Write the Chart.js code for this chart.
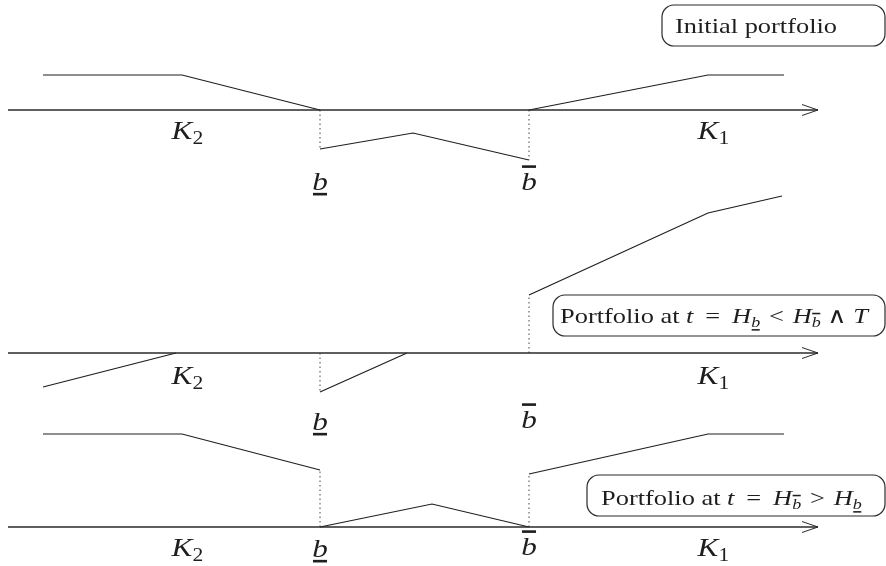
<!DOCTYPE html>
<html>
<head>
<meta charset="utf-8">
<script src="https://cdn.jsdelivr.net/npm/chart.js@4.4.0/dist/chart.umd.min.js"></script>
<style>
  html, body { margin: 0; padding: 0; background: #fff; }
  canvas { display: block; }
</style>
</head>
<body>
<canvas id="payoffChart" width="886" height="566"></canvas>
<script>
// strikes and barriers on the price axis
const strikes = [18.2, 70.8];          // K2, K1
const strikeIdx = ['2', '1'];
const barriers = [32.0, 52.9];         // lower b, upper b
const axisX = [0.8, 81.8];

// initial portfolio
const initLeftX = [4.3, 18.2, 32.0],   initLeftY = [3.5, 3.5, 0];
const initMidX = [32.0, 41.3, 52.9],   initMidY = [-3.9, -2.3, -5.0];
const initRightX = [52.9, 70.8, 78.4], initRightY = [0, 3.5, 3.5];

// portfolio once the lower barrier is hit
const lowLeftX = [4.3, 17.6],          lowLeftY = [-3.4, 0];
const lowMidX = [32.0, 40.7],          lowMidY = [-3.9, 0];
const lowRightX = [52.9, 70.8, 78.2],  lowRightY = [5.8, 14.0, 15.7];

// portfolio once the upper barrier is hit
const upLeftX = [4.3, 18.2, 32.0],     upLeftY = [9.3, 9.3, 5.7];
const upMidX = [32.0, 43.2, 52.9],     upMidY = [0, 2.3, 0];
const upRightX = [52.9, 70.8, 78.4],   upRightY = [5.3, 9.3, 9.3];

const INK = '#1e1e1e';
const SERIF = '"Liberation Serif", "DejaVu Serif", serif';
const STRETCH = 1.2;   // widen Times glyphs towards the TeX look
const SP = '\u2009';   // thin space around "="
const HS = '\u200A';   // hair space around "<" and ">"

const panels = [
  {
    axis: 'y1', min: -45.6, max: 11.0,
    lines: [[initLeftX, initLeftY], [initMidX, initMidY], [initRightX, initRightY]],
    jumps: [initMidY[0], initMidY[2]],
    kBase: -2.9, bBase: [-8.0, -8.0],
    box: { x0: 66.2, x1: 88.5, top: 10.5, bot: 6.4, tx: 67.5, base: 7.75 },
    text: [{ t: 'Initial portfolio' }]
  },
  {
    axis: 'y2', min: -21.3, max: 35.3,
    lines: [[lowLeftX, lowLeftY], [lowMidX, lowMidY], [lowRightX, lowRightY]],
    jumps: [lowMidY[0], lowRightY[0]],
    kBase: -3.1, bBase: [-7.7, -7.5],
    box: { x0: 55.3, x1: 88.5, top: 5.8, bot: 1.7, tx: 56.0, base: 3.0 },
    text: [
      { t: 'Portfolio at ' }, { t: 't', it: true }, { t: SP + ' = ' + SP }, { t: 'H', it: true },
      { t: 'b', it: true, sub: true, deco: 'under' }, { t: HS + ' < ' + HS }, { t: 'H', it: true },
      { t: 'b', it: true, sub: true, deco: 'over' }, { t: ' \u2227 ' }, { t: 'T', it: true }
    ]
  },
  {
    axis: 'y3', min: -3.9, max: 52.7,
    lines: [[upLeftX, upLeftY], [upMidX, upMidY], [upRightX, upRightY]],
    jumps: [upLeftY[2], upRightY[0]],
    kBase: -2.9, bBase: [-3.0, -2.8],
    box: { x0: 58.7, x1: 88.5, top: 5.2, bot: 1.1, tx: 60.1, base: 2.2 },
    text: [
      { t: 'Portfolio at ' }, { t: 't', it: true }, { t: SP + ' = ' + SP }, { t: 'H', it: true },
      { t: 'b', it: true, sub: true, deco: 'over' }, { t: HS + ' > ' + HS }, { t: 'H', it: true },
      { t: 'b', it: true, sub: true, deco: 'under' }
    ]
  }
];

function pts(xs, ys) {
  return xs.map((x, i) => ({ x: x, y: ys[i] }));
}

const datasets = [];
panels.forEach((p) => {
  // price axis with open arrow head
  datasets.push({ data: pts(axisX, [0, 0]), yAxisID: p.axis, borderColor: '#2a2a2a', borderWidth: 1.4 });
  datasets.push({
    data: pts([axisX[1] - 1.6, axisX[1], axisX[1] - 1.6], [0.55, 0, -0.55]),
    yAxisID: p.axis, borderColor: '#2a2a2a', borderWidth: 1
  });
  p.lines.forEach(([xs, ys]) => {
    datasets.push({ data: pts(xs, ys), yAxisID: p.axis, borderColor: INK, borderWidth: 1.2 });
  });
  barriers.forEach((bx, i) => {
    datasets.push({
      data: pts([bx, bx], [0, p.jumps[i]]), yAxisID: p.axis,
      borderColor: '#444', borderWidth: 1, borderDash: [1.5, 3]
    });
  });
});

function runFont(r, size) {
  const s = r.sub ? Math.round(size * 0.7) : size;
  return (r.it ? 'italic ' : '') + s + 'px ' + SERIF;
}

function textWidth(ctx, r, size) {
  ctx.font = runFont(r, size);
  return ctx.measureText(r.t).width * STRETCH;
}

// draws roman / italic / subscript pieces from x along a baseline
function drawRuns(ctx, runs, x, base, size) {
  let cx = x;
  runs.forEach((r) => {
    const w = textWidth(ctx, r, size);
    const y = r.sub ? base + size * 0.2 : base;
    ctx.save();
    ctx.translate(cx, y);
    ctx.scale(STRETCH, 1);
    ctx.fillText(r.t, 0, 0);
    ctx.restore();
    if (r.deco) {
      const s = r.sub ? size * 0.7 : size;
      const ly = r.deco === 'under' ? y + s * 0.16 : y - s * 0.9;
      ctx.fillRect(cx + w * 0.05, ly - s * 0.05, w * 0.9, Math.max(1.5, s * 0.1));
    }
    cx += w;
  });
  return cx - x;
}

const annotate = {
  id: 'annotate',
  afterDatasetsDraw(chart) {
    const ctx = chart.ctx;
    const xs = chart.scales.x;
    ctx.save();
    ctx.fillStyle = INK;
    ctx.textBaseline = 'alphabetic';
    ctx.textAlign = 'left';
    panels.forEach((p) => {
      const ys = chart.scales[p.axis];
      // strike labels K2, K1 centred on the K glyph
      strikes.forEach((k, i) => {
        const wk = textWidth(ctx, { t: 'K', it: true }, 26);
        drawRuns(ctx, [{ t: 'K', it: true }, { t: strikeIdx[i], sub: true }],
          xs.getPixelForValue(k) - wk / 2, ys.getPixelForValue(p.kBase), 26);
      });
      // barrier labels, underlined b and overlined b
      barriers.forEach((bx, i) => {
        const wb = textWidth(ctx, { t: 'b', it: true }, 26);
        drawRuns(ctx, [{ t: 'b', it: true, deco: i === 0 ? 'under' : 'over' }],
          xs.getPixelForValue(bx) - wb / 2, ys.getPixelForValue(p.bBase[i]), 26);
      });
      // rounded caption box
      const b = p.box;
      const x0 = xs.getPixelForValue(b.x0), x1 = xs.getPixelForValue(b.x1);
      const y0 = ys.getPixelForValue(b.top), y1 = ys.getPixelForValue(b.bot);
      ctx.beginPath();
      ctx.roundRect(x0, y0, x1 - x0, y1 - y0, 12);
      ctx.strokeStyle = '#2a2a2a';
      ctx.lineWidth = 1.2;
      ctx.stroke();
      drawRuns(ctx, p.text, xs.getPixelForValue(b.tx), ys.getPixelForValue(b.base), 22);
    });
    ctx.restore();
  }
};

const scales = { x: { type: 'linear', min: 0, max: 88.6, display: false } };
panels.forEach((p) => {
  scales[p.axis] = { type: 'linear', min: p.min, max: p.max, display: false };
});

new Chart(document.getElementById('payoffChart').getContext('2d'), {
  type: 'scatter',
  data: { datasets: datasets },
  options: {
    responsive: false,
    devicePixelRatio: 1,
    animation: false,
    layout: { padding: 0 },
    showLine: true,
    elements: { point: { radius: 0, hoverRadius: 0 }, line: { tension: 0 } },
    plugins: { legend: { display: false }, tooltip: { enabled: false } },
    scales: scales
  },
  plugins: [annotate]
});
</script>
</body>
</html>
